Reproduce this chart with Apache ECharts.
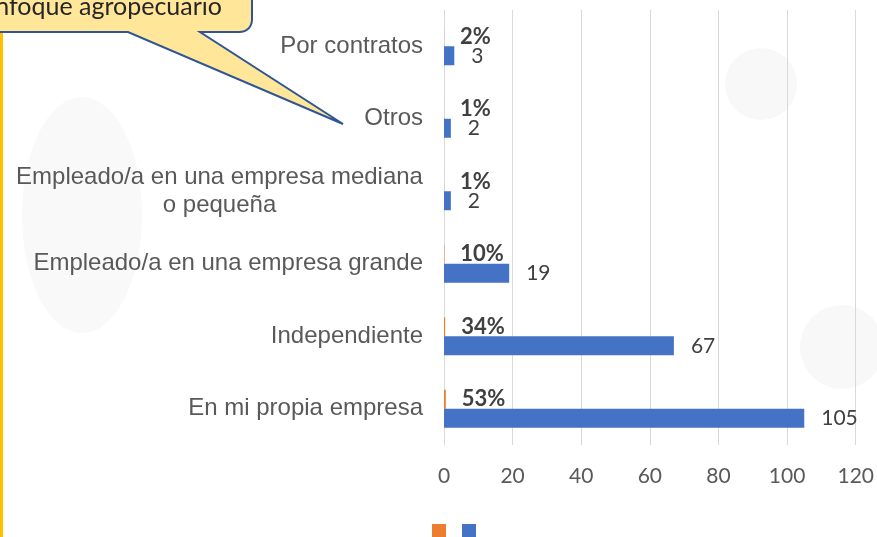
<!DOCTYPE html>
<html>
<head>
<meta charset="utf-8">
<script src="https://cdn.jsdelivr.net/npm/echarts@6/dist/echarts.min.js"></script>
<style>
  html, body { margin: 0; padding: 0; background: #fff; }
  #main { width: 877px; height: 537px; }
</style>
</head>
<body>
<div id="main"></div>
<script>
// categories from bottom to top (category axis runs upward)
const categorias = [
  "En mi propia empresa",
  "Independiente",
  "Empleado/a en una empresa grande",
  "Empleado/a en una empresa mediana\no pequeña",
  "Otros",
  "Por contratos",
];
const cantidad = [105, 67, 19, 2, 2, 3];
const porcentaje = [0.53, 0.34, 0.10, 0.01, 0.01, 0.02];
const ticks = [0, 20, 40, 60, 80, 100, 120];

const chart = echarts.init(document.getElementById("main"));

// wrapped label is centred on itself like in the original
const yData = categorias.map((c) =>
  c.indexOf("\n") >= 0
    ? { value: c, textStyle: { align: "center", padding: [0, 407, 0, 0] } }
    : c
);

let option = {
  backgroundColor: "#ffffff",
  animation: false,
  graphic: [
    // faint watermark shapes
    { type: "ellipse", z: -10, shape: { cx: 82, cy: 215, rx: 60, ry: 118 }, style: { fill: "#f9f9f9" } },
    { type: "circle", z: -10, shape: { cx: 761, cy: 84, r: 36 }, style: { fill: "#f8f8f8" } },
    { type: "circle", z: -10, shape: { cx: 842, cy: 347, r: 42 }, style: { fill: "#f8f8f8" } },
    // yellow side bar
    { type: "rect", shape: { x: 0, y: 33, width: 3, height: 510 }, style: { fill: "#FFC000" } },
    // callout bubble
    {
      type: "polygon",
      shape: {
        points: [
          [-20, -20], [252, -20], [252, 20], [251.6, 23.1], [250.4, 26], [248.5, 28.5],
          [246, 30.4], [243.1, 31.6], [240, 32], [200, 32], [343, 124], [128, 32], [-20, 32],
        ],
      },
      style: { fill: "#FFE699", stroke: "#2F5597", lineWidth: 2 },
    },
    {
      type: "text",
      style: {
        x: 222,
        y: 19,
        text: "Enfoque agropecuario",
        textAlign: "right",
        textVerticalAlign: "bottom",
        font: "25px Lato",
        fill: "#262626",
      },
    },
  ],
  legend: {
    data: ["Porcentaje", "Cantidad"],
    left: 427,
    top: 519,
    icon: "rect",
    itemWidth: 14,
    itemHeight: 14,
    itemGap: 16,
    formatter: () => "",
  },
  grid: { left: 444, right: 19, top: 10, bottom: 92 },
  xAxis: {
    type: "value",
    min: 0,
    max: 120,
    interval: 20,
    axisLine: { show: false },
    axisTick: { show: false },
    splitLine: { lineStyle: { color: "#D9D9D9", width: 1 } },
    axisLabel: {
      color: "#595959",
      fontFamily: "Lato",
      fontSize: 21,
      margin: 21,
      formatter: (v) => (ticks.indexOf(v) >= 0 ? String(v) : ""),
    },
  },
  yAxis: {
    type: "category",
    data: yData,
    axisLine: { show: true, lineStyle: { color: "#D9D9D9" } },
    axisTick: { show: false },
    axisLabel: {
      color: "#595959",
      fontFamily: "Liberation Sans",
      fontSize: 24,
      lineHeight: 28,
      margin: 21,
    },
  },
  series: [
    {
      name: "Porcentaje",
      type: "bar",
      data: porcentaje,
      barWidth: 19,
      barGap: "0%",
      itemStyle: { color: "#ED7D31" },
      label: {
        show: true,
        position: "right",
        distance: 16,
        color: "#404040",
        fontFamily: "Lato",
        fontWeight: "bold",
        fontSize: 22,
        formatter: (p) => Math.round(p.value * 100) + "%",
      },
    },
    {
      name: "Cantidad",
      type: "bar",
      data: cantidad,
      barWidth: 19,
      barGap: "0%",
      itemStyle: { color: "#4472C4" },
      label: {
        show: true,
        position: "right",
        distance: 17,
        color: "#404040",
        fontFamily: "Lato",
        fontSize: 21,
      },
    },
  ],
};

chart.setOption(option);
</script>
</body>
</html>
